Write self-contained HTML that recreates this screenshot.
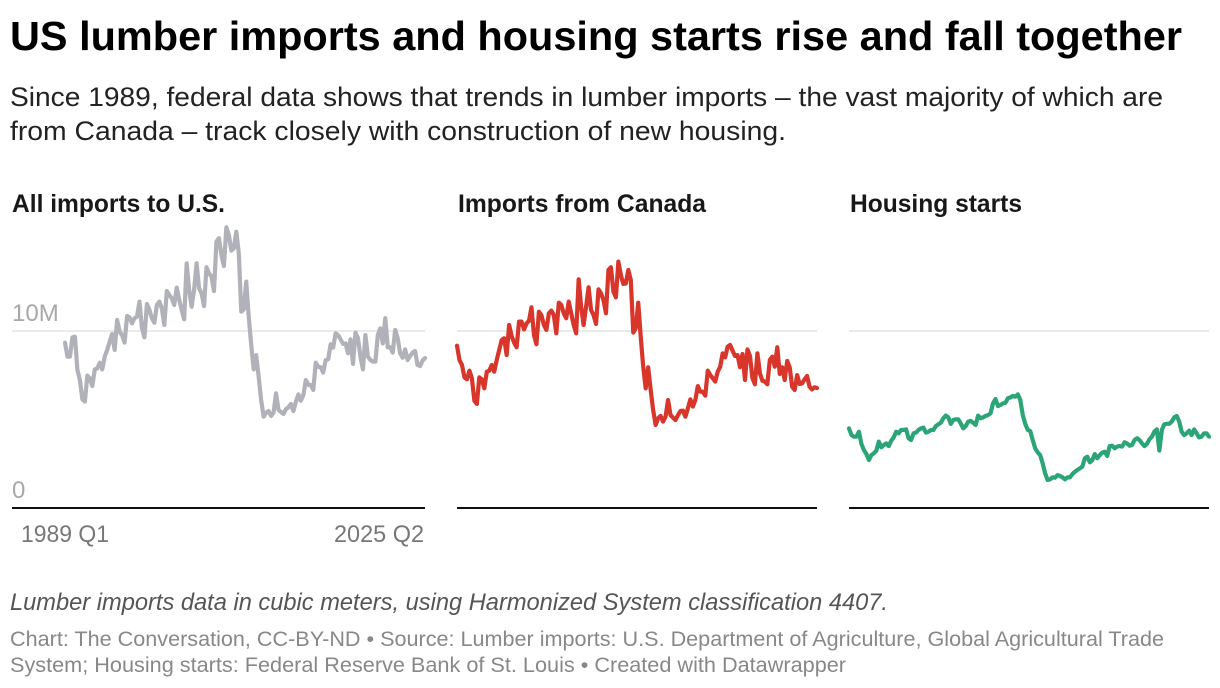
<!DOCTYPE html>
<html lang="en">
<head>
<meta charset="utf-8">
<title>US lumber imports and housing starts</title>
<style>
html,body{margin:0;padding:0;background:#fff;width:1220px;height:688px;overflow:hidden}
svg{display:block}
text{font-family:"Liberation Sans",sans-serif}
</style>
</head>
<body>
<svg id="chart" xmlns="http://www.w3.org/2000/svg" width="1220" height="688" viewBox="0 0 1220 688">
  <text x="10" y="50" font-size="41" font-weight="700" fill="#000" textLength="1172" lengthAdjust="spacingAndGlyphs">US lumber imports and housing starts rise and fall together</text>
  <text x="10" y="106" font-size="27" fill="#222" textLength="1153" lengthAdjust="spacingAndGlyphs">Since 1989, federal data shows that trends in lumber imports – the vast majority of which are</text>
  <text x="10" y="140" font-size="27" fill="#222" textLength="776" lengthAdjust="spacingAndGlyphs">from Canada – track closely with construction of new housing.</text>
  <text x="12" y="212" font-size="25" font-weight="700" fill="#181818" textLength="213" lengthAdjust="spacingAndGlyphs">All imports to U.S.</text>
  <text x="458" y="212" font-size="25" font-weight="700" fill="#181818" textLength="248" lengthAdjust="spacingAndGlyphs">Imports from Canada</text>
  <text x="850" y="212" font-size="25" font-weight="700" fill="#181818" textLength="172" lengthAdjust="spacingAndGlyphs">Housing starts</text>
  <g id="plots"></g>
  <text x="10" y="610" font-size="24" font-style="italic" fill="#555" textLength="878" lengthAdjust="spacingAndGlyphs">Lumber imports data in cubic meters, using Harmonized System classification 4407.</text>
  <text x="10" y="646" font-size="21.5" fill="#888" textLength="1154" lengthAdjust="spacingAndGlyphs">Chart: The Conversation, CC-BY-ND • Source: Lumber imports: U.S. Department of Agriculture, Global Agricultural Trade</text>
  <text x="10" y="672" font-size="21.5" fill="#888" textLength="836" lengthAdjust="spacingAndGlyphs">System; Housing starts: Federal Reserve Bank of St. Louis • Created with Datawrapper</text>
</svg>
<script>
// Quarterly values, 1989 Q1 to 2025 Q2 (millions)
const allImports = [9.34,8.55,8.55,9.64,9.68,7.80,7.23,6.14,6.01,7.48,7.33,6.89,7.83,7.89,8.21,7.83,8.55,8.93,9.40,9.83,8.93,10.62,9.96,9.77,9.34,10.85,10.77,10.43,10.72,10.81,11.66,10.15,9.64,11.53,11.19,10.72,10.47,11.47,11.66,11.28,10.34,12.26,12.03,11.85,11.47,12.45,11.75,11.19,10.66,13.82,12.32,11.37,12.32,13.82,12.41,12.13,11.41,13.60,13.26,13.07,12.26,15.05,15.24,14.29,13.67,15.86,15.42,14.54,14.67,15.61,14.39,11.09,11.22,12.79,10.81,9.21,7.83,8.64,7.42,6.10,5.16,5.39,5.48,5.20,5.39,6.48,5.54,5.42,5.31,5.59,5.69,5.88,5.48,6.01,6.42,6.06,6.38,7.23,6.95,6.95,6.67,8.21,7.98,7.95,7.65,8.36,8.40,9.25,9.06,9.87,9.77,9.53,9.27,9.30,8.74,9.53,8.14,9.91,9.59,8.55,7.83,9.77,8.55,8.36,8.27,8.27,9.77,10.15,9.30,10.72,9.08,9.08,8.78,10.06,9.59,8.74,8.49,8.96,8.36,8.59,8.78,8.87,8.08,8.02,8.32,8.47];
const canadaImports = [9.17,8.36,8.08,7.38,7.27,7.76,7.33,6.06,5.88,7.38,7.27,6.76,7.70,7.76,8.08,7.70,8.36,8.93,9.49,9.59,8.64,10.34,9.72,9.34,9.08,10.53,10.53,10.09,10.43,10.58,11.34,9.77,9.25,11.09,10.90,10.34,10.06,11.00,11.15,10.90,9.87,11.60,11.47,11.00,10.72,11.66,11.00,10.34,9.87,12.92,11.37,10.34,11.37,12.47,11.19,10.90,10.40,12.35,12.13,11.75,11.00,13.45,13.60,12.22,11.90,13.92,13.16,12.66,12.69,13.45,12.88,9.91,10.15,11.60,9.68,7.98,6.76,7.95,6.67,5.54,4.69,5.07,5.20,4.88,5.16,6.10,5.25,5.10,4.97,5.25,5.48,5.50,5.16,5.63,6.14,5.73,6.10,6.89,6.57,6.57,6.35,7.76,7.51,7.33,7.14,7.70,7.98,8.74,8.51,9.11,9.21,8.89,8.59,8.64,7.95,8.70,7.23,8.96,8.59,7.33,6.99,8.74,7.61,7.19,7.14,6.99,8.36,8.55,7.98,9.08,7.57,7.95,7.23,8.31,7.95,6.85,6.67,7.51,7.01,7.04,7.27,7.46,6.85,6.70,6.82,6.78];
const housingStarts = [4.50,4.12,4.03,4.03,4.31,3.62,3.28,3.05,2.71,2.99,3.09,3.24,3.75,3.43,3.56,3.65,3.50,3.80,3.99,4.31,4.22,4.41,4.41,4.44,3.94,3.84,4.22,4.26,4.41,4.50,4.54,4.26,4.31,4.41,4.41,4.63,4.73,4.82,5.07,5.22,5.12,4.75,4.97,5.01,5.01,4.78,4.50,4.63,4.88,4.92,4.82,4.69,5.22,5.07,5.12,5.20,5.25,5.35,5.91,6.16,5.76,5.82,5.91,5.95,6.20,6.25,6.33,6.29,6.42,6.10,5.25,4.75,4.41,4.35,3.84,3.37,3.15,2.99,2.52,1.96,1.58,1.62,1.73,1.71,1.86,1.81,1.73,1.62,1.73,1.73,1.92,2.05,2.15,2.24,2.34,2.81,2.90,2.58,2.71,3.05,2.81,2.99,3.13,3.18,2.94,3.50,3.52,3.37,3.47,3.50,3.47,3.71,3.65,3.52,3.56,3.84,3.94,3.84,3.65,3.50,3.62,3.88,4.03,4.31,4.44,3.24,4.41,4.73,4.76,4.76,4.88,5.12,5.20,4.88,4.31,4.12,4.22,4.37,4.12,4.44,4.22,3.99,4.03,4.22,4.22,4.03];
const yTickValues = [0, 10];
const yTickLabels = ['0', '10M'];
const xTickLabels = ['1989 Q1', '2025 Q2'];

const NS = 'http://www.w3.org/2000/svg';
const plots = document.getElementById('plots');
const panels = [
  {key: 'all-imports', values: allImports, color: '#b1b1b9', left: 65, right: 425, axisLeft: 12, labels: true},
  {key: 'canada-imports', values: canadaImports, color: '#d8352b', left: 457, right: 817, axisLeft: 457, labels: false},
  {key: 'housing-starts', values: housingStarts, color: '#2ba578', left: 849, right: 1209, axisLeft: 849, labels: false}
];
const baseY = 508, pxPerUnit = 17.7;
function yScale(v) { return baseY - v * pxPerUnit; }
function xScale(panel, i) { return panel.left + i * (panel.right - panel.left) / (panel.values.length - 1); }
function make(tag, attrs) {
  const el = document.createElementNS(NS, tag);
  Object.keys(attrs).forEach(function (k) { el.setAttribute(k, attrs[k]); });
  return el;
}
panels.forEach(function (p) {
  const grid = make('line', {x1: p.axisLeft, x2: p.right, y1: yScale(yTickValues[1]), y2: yScale(yTickValues[1]), stroke: '#e4e4e4', 'stroke-width': 1.6});
  
  
  plots.appendChild(grid);

  const d = p.values.map(function (v, i) {
    return (i ? 'L' : 'M') + xScale(p, i).toFixed(2) + ' ' + yScale(v).toFixed(2);
  }).join('');
  const line = make('path', {d: d, fill: 'none', stroke: p.color, 'stroke-width': 4.2, 'stroke-linejoin': 'round', 'stroke-linecap': 'round'});
  
  
  plots.appendChild(line);

  const axis = make('line', {x1: p.axisLeft, x2: p.right, y1: yScale(yTickValues[0]), y2: yScale(yTickValues[0]), stroke: '#111', 'stroke-width': 2});
  
  
  plots.appendChild(axis);

  if (p.labels) {
    yTickValues.forEach(function (v, i) {
      const t = make('text', {x: 12, y: yScale(v) - 10, 'font-size': 24, fill: '#a8a8a8'});
      
      
      t.textContent = yTickLabels[i];
      plots.appendChild(t);
    });
    xTickLabels.forEach(function (label, i) {
      const t = make('text', {
        x: i === 0 ? 21 : p.right - 91,
        y: 542,
        'font-size': 24,
        fill: '#777',
        textLength: i === 0 ? 88 : 90,
        lengthAdjust: 'spacingAndGlyphs'
      });
      
      
      t.textContent = label;
      plots.appendChild(t);
    });
  }
});
</script>
</body>
</html>
